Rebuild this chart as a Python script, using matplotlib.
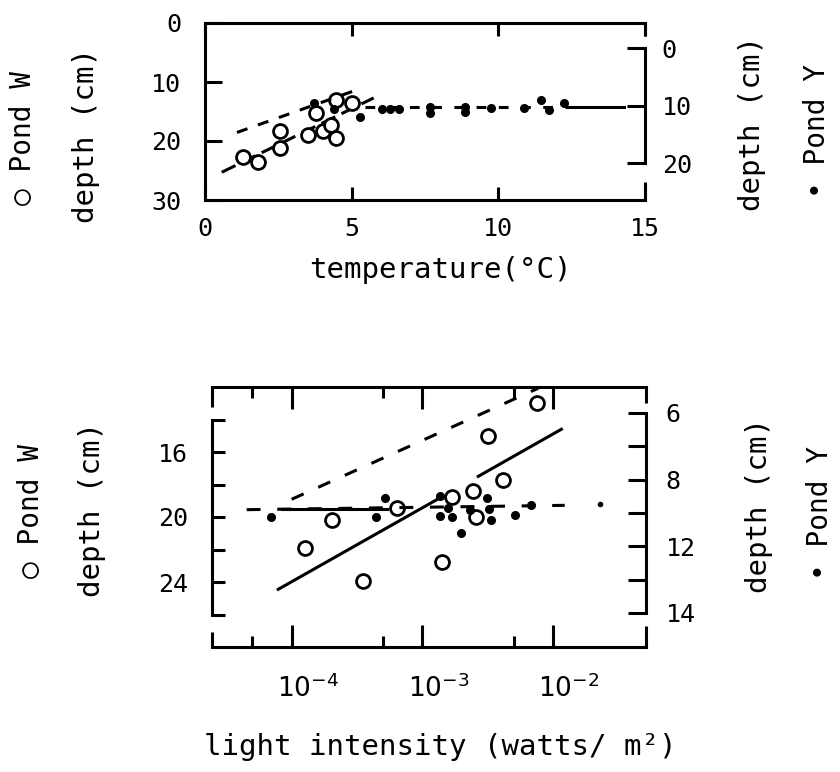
import matplotlib
matplotlib.use('Agg')
import matplotlib.pyplot as plt
import matplotlib.transforms as mtransforms
from matplotlib.ticker import FixedLocator, FixedFormatter, NullFormatter

plt.rcParams['font.family'] = ['DejaVu Sans Mono', 'DejaVu Sans']
plt.rcParams['lines.scale_dashes'] = False
plt.rcParams['mathtext.fontset'] = 'dejavusans'

# ---------------- data : top panel (temperature) ----------------
pondW_temp = [1.31, 1.79, 2.55, 2.55, 3.50, 3.79, 4.03, 4.30, 4.48, 4.48, 5.00]
pondW_temp_depth = [22.7, 23.5, 18.3, 21.2, 19.0, 15.3, 18.3, 17.3, 19.5, 13.0, 13.5]
pondY_temp = [3.72, 4.41, 5.28, 6.03, 6.31, 6.62, 7.66, 7.66, 8.86, 8.86,
              9.76, 10.86, 11.45, 11.72, 12.24]
pondY_temp_depth = [9.4, 10.6, 12.0, 10.5, 10.5, 10.5, 10.2, 11.25, 10.2, 11.1,
                    10.4, 10.4, 9.0, 10.7, 9.4]
pondW_temp_fit_x = [0.57, 5.75]
pondW_temp_fit_y = [25.3, 12.7]
pondY_temp_fit_x = [1.09, 5.23]
pondY_temp_fit_y = [14.6, 7.1]
pondY_plateau_dash_x = [5.45, 12.4]
pondY_plateau_solid_x = [12.4, 14.3]
pondY_plateau_depth = [10.1, 10.1]

temp_ticks = [0, 5, 10, 15]
temp_ticklabels = ['0', '5', '10', '15']
left_top_ticks = [0, 10, 20, 30]
left_top_ticklabels = ['0', '10', '20', '30']
right_top_ticks = [0, 10, 20]
right_top_ticklabels = ['0', '10', '20']

# ---------------- data : bottom panel (light) ----------------
pondW_light = [1.26e-4, 2.02e-4, 3.49e-4, 6.43e-4, 1.42e-3, 1.69e-3, 2.43e-3,
               2.57e-3, 3.19e-3, 4.11e-3, 7.50e-3]
pondW_light_depth = [21.93, 20.18, 23.92, 19.43, 22.79, 18.79, 18.40,
                     19.98, 15.02, 17.72, 12.97]
pondY_light = [6.90e-5, 4.40e-4, 5.17e-4, 1.36e-3, 1.36e-3, 1.56e-3, 1.69e-3,
               1.97e-3, 2.31e-3, 3.10e-3, 3.25e-3, 3.35e-3, 5.10e-3, 6.74e-3]
pondY_light_depth = [9.12, 9.12, 8.55, 8.50, 9.10, 8.85, 9.12, 9.59, 8.92,
                     8.54, 8.89, 9.22, 9.05, 8.77]
pondY_light_small = [2.29e-2]
pondY_light_small_depth = [8.74]

pondW_light_fit1_x = [7.9e-5, 1.36e-3]
pondW_light_fit1_y = [24.45, 18.83]
pondW_light_fit2_x = [2.68e-3, 1.16e-2]
pondW_light_fit2_y = [17.50, 14.60]
upper_light_fit_x = [1.0e-4, 7.7e-3]
upper_light_fit_y = [18.91, 12.08]
pondY_light_fit_x = [4.53e-5, 1.23e-2]
pondY_light_fit_y = [8.90, 8.77]
pondY_light_solid_x = [8.38e-5, 5.33e-4]
pondY_light_solid_y = [8.88, 8.88]

light_major = [1e-4, 1e-3, 1e-2]
light_major_labels = ['$10^{-4}$', '$10^{-3}$', '$10^{-2}$']
light_minor = [5e-5, 5e-4, 5e-3]
left_bot_ticks = [14, 16, 18, 20, 22, 24, 26]
left_bot_ticklabels = ['', '16', '', '20', '', '24', '']
right_bot_ticks = [6, 7, 8, 9, 10, 11, 12]
right_bot_ticklabels = ['6', '', '8', '', '12', '', '14']

# ---------------- figure ----------------
W, H = 840, 772
fig = plt.figure(figsize=(W / 100, H / 100), dpi=100)
LW = 2.2
K = 'black'
TICK_FS = 18
LABEL_FS = 21


def fig_axes(l, r, t, b):
    return fig.add_axes([l / W, 1 - b / H, (r - l) / W, (b - t) / H])


def corner(ax, x, y0, y1):
    ax.plot([x, x], [y0, y1], transform=ax.get_yaxis_transform(), color=K,
            lw=LW, clip_on=False, solid_capstyle='butt')


open_kw = dict(ls='none', marker='o', ms=10, mfc='white', mec=K, mew=2, zorder=5)
dot_kw = dict(ls='none', marker='o', ms=5.5, color=K, zorder=5)

# ===== top panel =====
ax1 = fig_axes(205, 645, 23, 200)
ax2 = ax1.twinx()
ax1.set_xlim(0, 15)
ax1.set_ylim(30, 0)
ax2.set_ylim(26.35, -4.43)

ax1.plot(pondW_temp_fit_x, pondW_temp_fit_y, color=K, lw=LW, dashes=(11, 5))
ax2.plot(pondY_temp_fit_x, pondY_temp_fit_y, color=K, lw=LW, dashes=(8, 8))
ax2.plot(pondY_plateau_dash_x, pondY_plateau_depth, color=K, lw=LW, dashes=(7, 9))
ax2.plot(pondY_plateau_solid_x, pondY_plateau_depth, color=K, lw=LW)
ax1.plot(pondW_temp, pondW_temp_depth, **open_kw)
ax2.plot(pondY_temp, pondY_temp_depth, **dot_kw)

for s in ['left', 'top', 'bottom']:
    ax1.spines[s].set_linewidth(LW)
ax1.spines['right'].set_visible(False)
for s in ['left', 'top', 'bottom']:
    ax2.spines[s].set_visible(False)
ax2.spines['right'].set_linewidth(LW)
ax2.spines['right'].set_bounds(0, 20)
corner(ax2, 1, -4.43, -2.2)
corner(ax2, 1, 23.2, 26.35)

ax1.set_xticks(temp_ticks, temp_ticklabels)
ax1.set_yticks(left_top_ticks, left_top_ticklabels)
ax2.set_yticks(right_top_ticks, right_top_ticklabels)
ax1.tick_params(axis='x', direction='in', top=True, bottom=True, length=9.5,
                width=LW, pad=12, labelsize=TICK_FS)
ax1.tick_params(axis='y', direction='in', length=12, width=LW, pad=17,
                labelsize=TICK_FS)
ax2.tick_params(axis='y', direction='in', length=13, width=LW, pad=12,
                labelsize=TICK_FS)

ax1.set_xlabel('temperature(°C)', fontsize=LABEL_FS, va='center')
ax1.xaxis.set_label_coords(0.536, -0.395)
ax1.set_ylabel('depth (cm)', fontsize=LABEL_FS, va='center', ha='center',
               rotation=90, rotation_mode='default')
ax1.yaxis.set_label_coords(-0.270, 0.367)
ax2.set_ylabel('depth (cm)', fontsize=LABEL_FS, va='center', ha='center',
               rotation=90, rotation_mode='default')
ax2.yaxis.set_label_coords(1.243, 0.435)
fig.text(23 / W, 1 - 138 / H, '○ Pond W', rotation=90, ha='center',
         va='center', fontsize=20)
fig.text(817 / W, 1 - 131 / H, '• Pond Y', rotation=90, ha='center',
         va='center', fontsize=20)

# ===== bottom panel =====
ax3 = fig_axes(212, 646, 387, 647)
ax3.set_xscale('log')
ax4 = ax3.twinx()
ax3.set_xlim(2.46e-5, 5.15e-2)
ax3.set_ylim(28, 12)
ax4.set_ylim(13.02, 5.22)

ax3.plot(upper_light_fit_x, upper_light_fit_y, color=K, lw=LW, dashes=(9.5, 11.5))
ax3.plot(pondW_light_fit1_x, pondW_light_fit1_y, color=K, lw=LW)
ax3.plot(pondW_light_fit2_x, pondW_light_fit2_y, color=K, lw=LW)
ax4.plot(pondY_light_fit_x, pondY_light_fit_y, color=K, lw=LW, dashes=(10, 12))
ax4.plot(pondY_light_solid_x, pondY_light_solid_y, color=K, lw=LW)
ax3.plot(pondW_light, pondW_light_depth, **open_kw)
ax4.plot(pondY_light, pondY_light_depth, **dot_kw)
ax4.plot(pondY_light_small, pondY_light_small_depth, ls='none', marker='o',
         ms=3, color=K, zorder=5)

for s in ['left', 'top', 'bottom']:
    ax3.spines[s].set_linewidth(LW)
ax3.spines['right'].set_visible(False)
ax3.spines['left'].set_bounds(14, 26)
for s in ['left', 'top', 'bottom']:
    ax4.spines[s].set_visible(False)
ax4.spines['right'].set_linewidth(LW)
ax4.spines['right'].set_bounds(6, 12)
corner(ax3, 0, 12, 13.23)
corner(ax3, 0, 27.08, 28)
corner(ax4, 1, 5.22, 5.7)
corner(ax4, 1, 12.39, 13.02)

ax3.xaxis.set_major_locator(FixedLocator(light_major))
ax3.xaxis.set_major_formatter(FixedFormatter(light_major_labels))
ax3.xaxis.set_minor_locator(FixedLocator(light_minor))
ax3.xaxis.set_minor_formatter(NullFormatter())
ax3.yaxis.set_major_locator(FixedLocator(left_bot_ticks))
ax3.yaxis.set_major_formatter(FixedFormatter(left_bot_ticklabels))
ax4.yaxis.set_major_locator(FixedLocator(right_bot_ticks))
ax4.yaxis.set_major_formatter(FixedFormatter(right_bot_ticklabels))
ax3.tick_params(axis='x', which='major', direction='in', top=True, bottom=True,
                length=16, width=LW, pad=20, labelsize=19)
ax3.tick_params(axis='x', which='minor', direction='in', top=True, bottom=True,
                length=8, width=LW)
ax3.tick_params(axis='y', direction='in', length=9, width=LW, pad=17,
                labelsize=TICK_FS)
ax4.tick_params(axis='y', direction='in', length=13, width=LW, pad=14,
                labelsize=TICK_FS)

shift = mtransforms.ScaledTranslation(16 / 100, 0, fig.dpi_scale_trans)
for lbl in ax3.get_xticklabels():
    lbl.set_transform(lbl.get_transform() + shift)

ax3.set_xlabel('light intensity (watts/ m²)', fontsize=LABEL_FS, va='center')
ax3.xaxis.set_label_coords(0.525, -0.385)
ax3.set_ylabel('depth (cm)', fontsize=LABEL_FS, va='center', ha='center',
               rotation=90, rotation_mode='default')
ax3.yaxis.set_label_coords(-0.276, 0.527)
ax4.set_ylabel('depth (cm)', fontsize=LABEL_FS, va='center', ha='center',
               rotation=90, rotation_mode='default')
ax4.yaxis.set_label_coords(1.260, 0.546)
fig.text(31 / W, 1 - 511 / H, '○ Pond W', rotation=90, ha='center',
         va='center', fontsize=20)
fig.text(820 / W, 1 - 513 / H, '• Pond Y', rotation=90, ha='center',
         va='center', fontsize=20)

fig.savefig('out.png', dpi=100, facecolor='white')
